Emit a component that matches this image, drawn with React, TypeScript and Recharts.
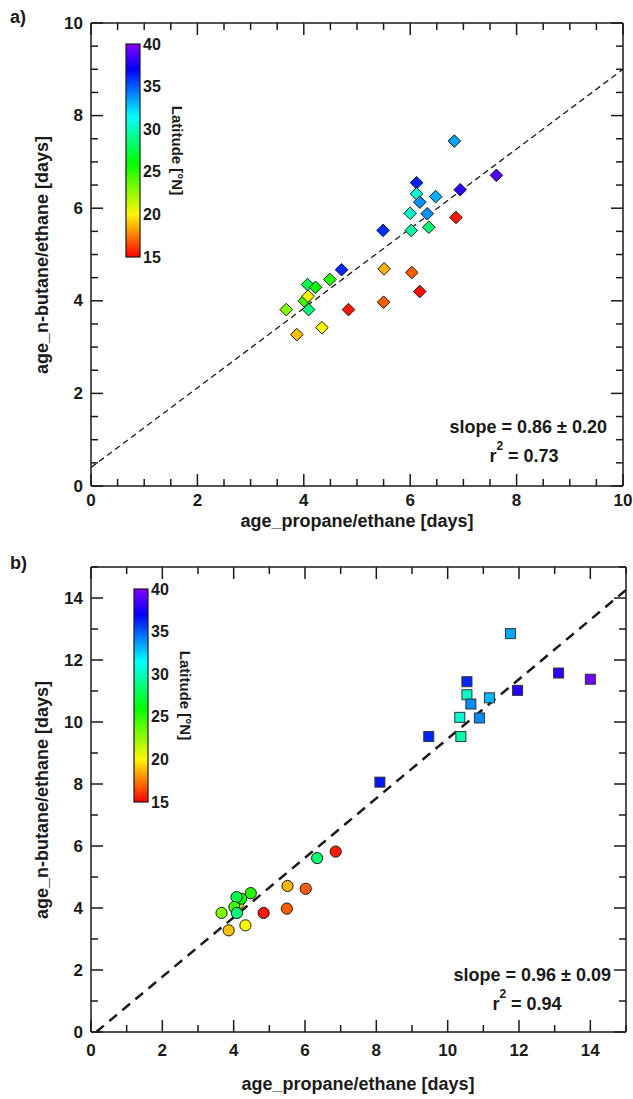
import React from 'react';
import { ScatterChart, Scatter, XAxis, YAxis, ReferenceLine } from 'recharts';

const FONT = '"Liberation Sans", Arial, Helvetica, sans-serif';
const INK = '#1a1a1a';

// panel a: ages from n-butane/ethane vs propane/ethane (all flights)
const propaneA = [6.83, 7.62, 6.12, 6.94, 6.12, 6.48, 6.18, 6.0, 6.32, 6.86, 5.49, 6.02, 6.35, 4.71, 5.51, 6.03, 4.49, 4.07, 4.22, 4.01, 4.08, 4.09, 3.67, 4.84, 5.5, 6.18, 4.34, 3.87];
const butaneA = [7.45, 6.71, 6.55, 6.4, 6.31, 6.25, 6.13, 5.89, 5.88, 5.8, 5.52, 5.52, 5.59, 4.67, 4.69, 4.61, 4.46, 4.35, 4.29, 4.0, 4.1, 3.81, 3.81, 3.81, 3.97, 4.2, 3.42, 3.27];
const latA = [33.5, 38.8, 36.3, 38.0, 30.5, 33.2, 33.9, 30.5, 33.9, 15.5, 36.0, 29.5, 28.4, 36.2, 18.6, 16.9, 25.2, 27.6, 26.0, 24.5, 20.2, 28.6, 23.1, 15.4, 16.9, 15.2, 20.3, 18.9];

// panel b: squares
const propaneBsq = [11.76, 13.11, 14.0, 10.54, 11.96, 10.54, 11.17, 10.65, 10.34, 10.89, 9.47, 10.37, 8.1];
const butaneBsq = [12.85, 11.58, 11.38, 11.3, 11.02, 10.88, 10.78, 10.58, 10.15, 10.13, 9.53, 9.53, 8.06];
const latBsq = [33.4, 38.0, 39.5, 36.2, 37.8, 30.3, 33.0, 34.0, 30.5, 34.0, 36.2, 29.7, 36.5];

// panel b: circles
const propaneBc = [4.13, 6.86, 6.34, 5.51, 6.02, 5.49, 4.84, 4.48, 4.21, 4.08, 4.02, 4.09, 3.66, 4.33, 3.86];
const butaneBc = [4.14, 5.82, 5.61, 4.71, 4.62, 3.98, 3.84, 4.48, 4.3, 4.35, 4.03, 3.84, 3.84, 3.44, 3.28];
const latBc = [20.3, 15.5, 28.4, 18.6, 16.9, 16.9, 15.4, 25.2, 26.0, 27.6, 24.5, 28.6, 23.1, 20.3, 18.9];

const fitA = { slope: 0.86, intercept: 0.4 };
const fitB = { slope: 0.96, intercept: -0.14 };

const ticksA = [0, 0.5, 1, 1.5, 2, 2.5, 3, 3.5, 4, 4.5, 5, 5.5, 6, 6.5, 7, 7.5, 8, 8.5, 9, 9.5, 10];
const ticksB = [0, 1, 2, 3, 4, 5, 6, 7, 8, 9, 10, 11, 12, 13, 14, 15];
const latTicks = [15, 20, 25, 30, 35, 40];

// rainbow colour table of the latitude bar
const hueStops: [number, number][] = [[15, 0], [20, 58], [26, 120], [31.5, 180], [37, 240], [40, 272]];

const latHue = (lat: number) => {
  if (lat <= hueStops[0][0]) return hueStops[0][1];
  for (let i = 1; i < hueStops.length; i++) {
    const [l0, h0] = hueStops[i - 1];
    const [l1, h1] = hueStops[i];
    if (lat <= l1) return h0 + ((lat - l0) / (l1 - l0)) * (h1 - h0);
  }
  return hueStops[hueStops.length - 1][1];
};
const latColor = (lat: number) => `hsl(${latHue(lat).toFixed(1)}, 100%, 50%)`;

const toPoints = (xs: number[], ys: number[], lats: number[]) =>
  xs.map((x, i) => ({ x, y: ys[i], lat: lats[i] }));

const pointsA = toPoints(propaneA, butaneA, latA);
const pointsBsq = toPoints(propaneBsq, butaneBsq, latBsq);
const pointsBc = toPoints(propaneBc, butaneBc, latBc);

const latOf = (p: any) => (p.payload && p.payload.lat != null ? p.payload.lat : p.lat);

const diamond = (p: any) => {
  const { cx, cy } = p;
  const r = 6.3;
  return (
    <polygon
      points={`${cx},${cy - r} ${cx + r},${cy} ${cx},${cy + r} ${cx - r},${cy}`}
      fill={latColor(latOf(p))}
      stroke={INK}
      strokeWidth={1}
    />
  );
};

const square = (p: any) => {
  const { cx, cy } = p;
  const h = 5;
  return <rect x={cx - h} y={cy - h} width={2 * h} height={2 * h} fill={latColor(latOf(p))} stroke="#333" strokeWidth={1} />;
};

const circle = (p: any) => {
  const { cx, cy } = p;
  return <circle cx={cx} cy={cy} r={5.6} fill={latColor(latOf(p))} stroke={INK} strokeWidth={1} />;
};

type Side = 'bottom' | 'top' | 'left' | 'right';

const axisTick = (side: Side, majorStep: number, labelGap: number) => (props: any) => {
  const { x, y, payload } = props;
  const v = payload.value;
  const major = Math.abs(v / majorStep - Math.round(v / majorStep)) < 1e-6;
  const len = major ? 12 : 7;
  let x2 = x;
  let y2 = y;
  if (side === 'bottom') y2 = y - len;
  if (side === 'top') y2 = y + len;
  if (side === 'left') x2 = x + len;
  if (side === 'right') x2 = x - len;
  const txt = { fontFamily: FONT, fontWeight: 700, fontSize: 17, fill: INK };
  return (
    <g>
      <line x1={x} y1={y} x2={x2} y2={y2} stroke={INK} strokeWidth={1.5} />
      {major && side === 'bottom' && (
        <text x={x} y={y + labelGap} textAnchor="middle" dominantBaseline="central" style={txt}>
          {v}
        </text>
      )}
      {major && side === 'left' && (
        <text x={x - 8} y={y} textAnchor="end" dominantBaseline="central" style={txt}>
          {v}
        </text>
      )}
    </g>
  );
};

const frame = { stroke: INK, strokeWidth: 1.5 };

// the axes take 1px each, so the margins below are one short of the plot edges
const frameAxes = (max: number, ticks: number[], majorStep: number, labelGap: number) => [
  <XAxis key="xb" xAxisId="b" type="number" dataKey="x" domain={[0, max]} ticks={ticks} interval={0} height={1}
    tickSize={0} tickMargin={0} tickLine={false} axisLine={frame} tick={axisTick('bottom', majorStep, labelGap)} allowDataOverflow />,
  <XAxis key="xt" xAxisId="t" orientation="top" type="number" dataKey="x" domain={[0, max]} ticks={ticks} interval={0} height={1}
    tickSize={0} tickMargin={0} tickLine={false} axisLine={frame} tick={axisTick('top', majorStep, labelGap)} allowDataOverflow />,
  <YAxis key="yl" yAxisId="l" type="number" dataKey="y" domain={[0, max]} ticks={ticks} interval={0} width={1}
    tickSize={0} tickMargin={0} tickLine={false} axisLine={frame} tick={axisTick('left', majorStep, labelGap)} allowDataOverflow />,
  <YAxis key="yr" yAxisId="r" orientation="right" type="number" dataKey="y" domain={[0, max]} ticks={ticks} interval={0} width={1}
    tickSize={0} tickMargin={0} tickLine={false} axisLine={frame} tick={axisTick('right', majorStep, labelGap)} allowDataOverflow />,
];

const ColorBar = ({ id, x, y, w, h, titleX }: { id: string; x: number; y: number; w: number; h: number; titleX: number }) => (
  <g>
    <defs>
      <linearGradient id={id} x1="0" y1="1" x2="0" y2="0">
        {hueStops.map(([lat, hue]) => (
          <stop key={lat} offset={(lat - 15) / 25} stopColor={`hsl(${hue}, 100%, 50%)`} />
        ))}
      </linearGradient>
    </defs>
    <rect x={x} y={y} width={w} height={h} fill={`url(#${id})`} stroke={INK} strokeWidth={1.2} />
    {latTicks.map((t) => (
      <text key={t} x={x + w + 3} y={y + h - ((t - 15) / 25) * h} dominantBaseline="central"
        style={{ fontFamily: FONT, fontWeight: 700, fontSize: 16, fill: INK }}>
        {t}
      </text>
    ))}
    <text x={titleX} y={y + h * 0.5} textAnchor="middle" dominantBaseline="central"
      transform={`rotate(90 ${titleX} ${y + h * 0.5})`}
      style={{ fontFamily: FONT, fontWeight: 700, fontSize: 15, fill: INK }}>
      Latitude [°N]
    </text>
  </g>
);

const label = { fontFamily: FONT, fontWeight: 700, fontSize: 18, fill: INK } as const;
const note = { fontFamily: FONT, fontWeight: 700, fontSize: 18, fill: INK } as const;

export default function App() {
  const bStart = -fitB.intercept / fitB.slope;
  return (
    <div style={{ position: 'absolute', left: 0, top: 0, width: 633, height: 1099, background: '#fff' }}>
      <div style={{ position: 'absolute', left: 0, top: 0 }}>
        <ScatterChart width={633} height={545} margin={{ top: 22, right: 9, bottom: 58, left: 90 }}>
          {frameAxes(10, ticksA, 2, 14)}
          <Scatter data={pointsA} xAxisId="b" yAxisId="l" shape={diamond} isAnimationActive={false} />
          <ReferenceLine xAxisId="b" yAxisId="l" ifOverflow="visible"
            segment={[{ x: 0, y: fitA.intercept }, { x: 10, y: fitA.intercept + fitA.slope * 10 }]}
            stroke={INK} strokeWidth={1.3} strokeDasharray="6 4" />
        </ScatterChart>
      </div>
      <div style={{ position: 'absolute', left: 0, top: 545 }}>
        <ScatterChart width={633} height={554} margin={{ top: 21, right: 6, bottom: 66, left: 90 }}>
          {frameAxes(15, ticksB, 2, 18)}
          <Scatter data={pointsBc} xAxisId="b" yAxisId="l" shape={circle} isAnimationActive={false} />
          <Scatter data={pointsBsq} xAxisId="b" yAxisId="l" shape={square} isAnimationActive={false} />
          <ReferenceLine xAxisId="b" yAxisId="l" ifOverflow="visible"
            segment={[{ x: bStart, y: 0 }, { x: 15, y: fitB.intercept + fitB.slope * 15 }]}
            stroke={INK} strokeWidth={2.5} strokeDasharray="10 7" />
        </ScatterChart>
      </div>
      <svg width={633} height={1099} style={{ position: 'absolute', left: 0, top: 0, pointerEvents: 'none' }}>
        {/* panel a */}
        <text x={10} y={17} dominantBaseline="central" style={label}>a)</text>
        <text x={357} y={521} textAnchor="middle" dominantBaseline="central" style={label}>age_propane/ethane [days]</text>
        <text x={42} y={255} textAnchor="middle" dominantBaseline="central" transform="rotate(-90 42 255)" style={label}>
          age_n-butane/ethane [days]
        </text>
        <ColorBar id="cbA" x={126} y={44} w={14} h={213} titleX={177} />
        <text x={607} y={427} textAnchor="end" dominantBaseline="central" style={note}>slope = 0.86 ± 0.20</text>
        <text x={524} y={456} textAnchor="middle" dominantBaseline="central" style={note}>
          r<tspan dy={-10} fontSize={12}>2</tspan><tspan dy={10}> = 0.73</tspan>
        </text>

        {/* panel b */}
        <text x={10} y={563} dominantBaseline="central" style={label}>b)</text>
        <text x={358} y={1084} textAnchor="middle" dominantBaseline="central" style={label}>age_propane/ethane [days]</text>
        <text x={42} y={800} textAnchor="middle" dominantBaseline="central" transform="rotate(-90 42 800)" style={label}>
          age_n-butane/ethane [days]
        </text>
        <ColorBar id="cbB" x={134} y={589} w={14} h={213} titleX={185} />
        <text x={611} y={975} textAnchor="end" dominantBaseline="central" style={note}>slope = 0.96 ± 0.09</text>
        <text x={527} y={1004} textAnchor="middle" dominantBaseline="central" style={note}>
          r<tspan dy={-10} fontSize={12}>2</tspan><tspan dy={10}> = 0.94</tspan>
        </text>
      </svg>
    </div>
  );
}
